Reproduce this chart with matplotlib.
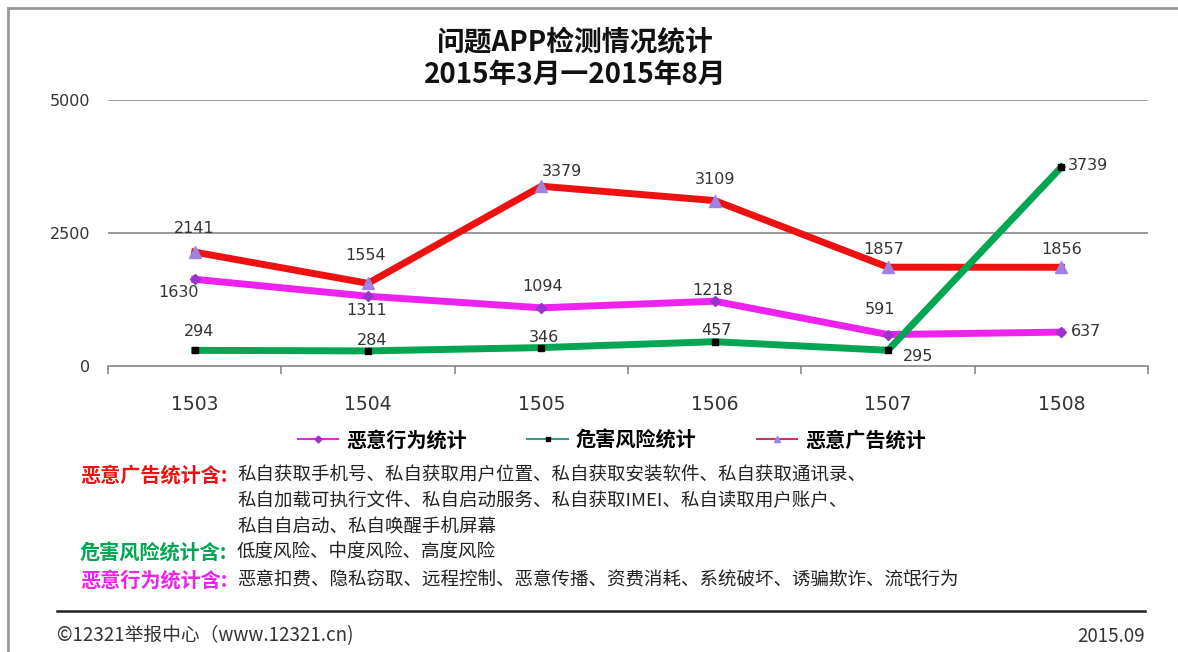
import matplotlib
matplotlib.use("Agg")
import matplotlib.pyplot as plt
from matplotlib.lines import Line2D

plt.rcParams['font.family'] = ['Noto Sans CJK SC', 'DejaVu Sans']

months = ["1503", "1504", "1505", "1506", "1507", "1508"]
behavior = [1630, 1311, 1094, 1218, 591, 637]      # 恶意行为统计
risk = [294, 284, 346, 457, 295, 3739]             # 危害风险统计
ads = [2141, 1554, 3379, 3109, 1857, 1856]         # 恶意广告统计
yticks = [0, 2500, 5000]

W, H = 1178, 652
fig = plt.figure(figsize=(W / 100, H / 100), dpi=100)

def fx(px):
    return px / W

def fy(py):
    return 1 - py / H

ax = fig.add_axes([fx(108), fy(366), fx(1148) - fx(108), fy(100) - fy(366)])
x = list(range(len(months)))

RED = "#EE1111"
MAG = "#EE22EE"
GRN = "#00A651"

ax.plot(x, behavior, color=MAG, lw=5, marker="D", ms=5, mfc="#9933CC", mec="#9933CC",
        zorder=3, label="恶意行为统计", solid_joinstyle="miter")
ax.plot(x, ads, color=RED, lw=5, marker="^", ms=8, mfc="#A080E0", mec="#A080E0",
        zorder=4, label="恶意广告统计", solid_joinstyle="miter")
ax.plot(x, risk, color=GRN, lw=5, marker="s", ms=4, mfc="black", mec="black",
        zorder=5, label="危害风险统计", solid_joinstyle="miter")

ax.set_xlim(-0.5, len(months) - 0.5)
ax.set_ylim(0, 5000)
for s in ["top", "right", "left"]:
    ax.spines[s].set_visible(False)
ax.spines["bottom"].set_color("#888888")
ax.spines["bottom"].set_linewidth(1.2)
for yv in yticks[1:]:
    ax.axhline(yv, color="#888888", lw=1.2, zorder=1)

ax.set_yticks(yticks)
ax.set_yticklabels([str(v) for v in yticks], fontsize=11.5, color="#333333",
                   family=["DejaVu Sans"])
ax.tick_params(axis="y", length=0, pad=13)

ax.set_xticks([i - 0.5 for i in range(len(months) + 1)])
ax.set_xticklabels([])
ax.tick_params(axis="x", which="major", length=6, direction="out", color="#888888", width=1.2)
ax.set_xticks(x, minor=True)
ax.set_xticklabels(months, minor=True, fontsize=13.5, color="#333333", family=["DejaVu Sans"])
ax.tick_params(axis="x", which="minor", length=0, pad=21)

# data labels (offsets in pixels)
def lab(xi, yi, dx, dy):
    ax.annotate(str(yi), (xi, yi), xytext=(dx / 1.389, -dy / 1.389), textcoords="offset points",
                ha="center", va="center", fontsize=11.5, color="#333333", zorder=6,
                family=["DejaVu Sans"])

red_off = [(0, -24), (-2, -28), (21, -15), (0, -21), (-4, -18), (0, -18)]
mag_off = [(-16, 13), (-1, 14), (1, -21), (-2, -11), (-8, -25), (25, -1)]
grn_off = [(4, -19), (4, -10), (3, -10), (2, -11), (30, 6), (27, -2)]
for i in x:
    lab(i, ads[i], *red_off[i])
    lab(i, behavior[i], *mag_off[i])
    lab(i, risk[i], *grn_off[i])

# title
fig.text(fx(575), fy(42), "问题APP检测情况统计", ha="center", va="center",
         fontsize=20, fontweight="bold", color="#111111")
fig.text(fx(575), fy(75), "2015年3月一2015年8月", ha="center", va="center",
         fontsize=20, fontweight="bold", color="#111111")

# legend
handles = [
    Line2D([], [], color=MAG, lw=1.5, marker="D", ms=3.5, mfc="#9933CC", mec="#9933CC"),
    Line2D([], [], color="#339988", lw=1.5, marker="s", ms=3.5, mfc="black", mec="black"),
    Line2D([], [], color="#CC3366", lw=1.5, marker="^", ms=5, mfc="#A080E0", mec="#A080E0"),
]
labels = ["恶意行为统计", "危害风险统计", "恶意广告统计"]
fig.legend(handles, labels, loc="center", bbox_to_anchor=(fx(612), fy(440)), ncol=3,
           frameon=False, handlelength=2.0, handletextpad=0.4, columnspacing=3.0,
           prop={"size": 14.5, "weight": "bold"})

# notes
notes = [
    (475, "恶意广告统计含:", RED, "私自获取手机号、私自获取用户位置、私自获取安装软件、私自获取通讯录、"),
    (501, None, None, "私自加载可执行文件、私自启动服务、私自获取IMEI、私自读取用户账户、"),
    (527, None, None, "私自自启动、私自唤醒手机屏幕"),
    (553, "危害风险统计含:", GRN, "低度风险、中度风险、高度风险"),
    (580, "恶意行为统计含:", MAG, "恶意扣费、隐私窃取、远程控制、恶意传播、资费消耗、系统破坏、诱骗欺诈、流氓行为"),
]
for py, head, col, body in notes:
    if head:
        fig.text(fx(80), fy(py), head, ha="left", va="center", fontsize=14.5,
                 fontweight="bold", color=col)
    fig.text(fx(237), fy(py), body, ha="left", va="center", fontsize=13.3, color="#222222")

# bottom rule and footer
fig.add_artist(Line2D([fx(57), fx(1145)], [fy(611), fy(611)], color="#222222", lw=1.8))
fig.text(fx(57), fy(636), "©12321举报中心（www.12321.cn)", ha="left", va="center",
         fontsize=13.5, color="#333333")
fig.text(fx(1145), fy(636), "2015.09", ha="right", va="center", fontsize=13.5, color="#333333")

# frame
fig.add_artist(Line2D([fx(8), 1], [fy(8), fy(8)], color="#999999", lw=2))
fig.add_artist(Line2D([fx(8), fx(8)], [fy(8), 0], color="#999999", lw=2))

fig.savefig("out.png", dpi=100, facecolor="white")
